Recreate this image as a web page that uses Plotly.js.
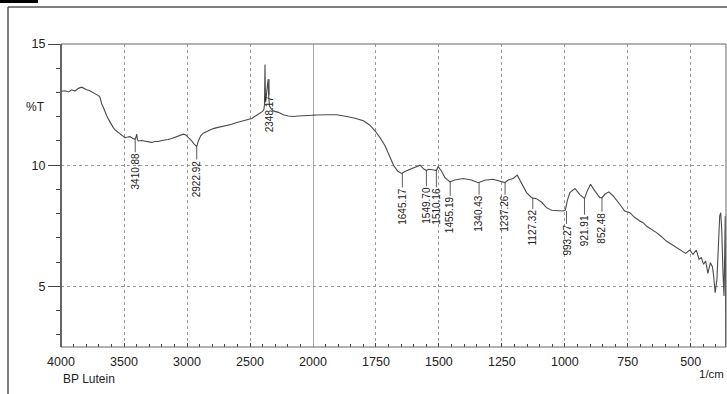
<!DOCTYPE html>
<html>
<head>
<meta charset="utf-8">
<script src="https://cdn.plot.ly/plotly-3.0.1.min.js"></script>
<style>html,body{margin:0;padding:0;background:#fff;}#chart{width:727px;height:394px;}</style>
</head>
<body>
<div id="chart"></div>
<script>
// Wavenumber (1/cm) and transmittance (%T)
const wavenumber = [4000,3968,3940,3915,3890,3862,3836,3815,3796,3775,3756,3735,3717,3700,3690,3677,3665,3651,3638,3624,3610,3598,3585,3571,3550,3532,3510,3492,3470,3452,3430,3413,3405,3399,3393,3386,3360,3333,3305,3280,3255,3228,3200,3175,3150,3121,3095,3069,3050,3029,3010,2990,2963,2945,2923,2910,2890,2871,2850,2831,2805,2778,2750,2725,2690,2645,2610,2566,2530,2487,2450,2420,2400,2390,2385,2381,2377,2370,2362,2356,2351,2346,2335,2315,2275,2236,2195,2156,2115,2077,2040,2000,1985,1946,1906,1866,1833,1800,1774,1754,1734,1714,1694,1679,1662,1648,1635,1615,1595,1575,1559,1550,1540,1533,1520,1510,1503,1490,1476,1456,1437,1404,1371,1344,1318,1285,1258,1238,1225,1205,1189,1172,1152,1132,1113,1093,1073,1053,1027,1007,998,990,980,960,941,922,911,898,881,861,852,841,825,808,782,762,742,722,702,689,676,656,636,616,597,577,557,537,520,504,491,478,467,458,449,441,432,422,414,409,403,396,391,385,381,377,372,368,365,363,361];
const transmittance = [13.05,13.07,13.02,13.11,13.06,13.17,13.22,13.15,13.11,13.08,13.03,12.98,12.93,12.86,12.80,12.52,12.40,12.18,12.05,11.90,11.78,11.62,11.55,11.46,11.38,11.32,11.22,11.14,11.16,11.18,11.10,11.07,11.15,11.28,11.05,11.00,11.02,11.00,10.96,10.94,10.98,10.98,11.02,11.03,11.06,11.10,11.15,11.21,11.24,11.28,11.25,11.15,11.00,10.88,10.77,11.00,11.22,11.32,11.38,11.42,11.48,11.53,11.56,11.60,11.64,11.69,11.75,11.81,11.86,11.93,12.05,12.15,12.22,12.30,12.50,14.15,12.60,12.90,13.20,13.55,12.80,12.45,12.35,12.24,12.18,12.08,12.03,12.01,12.03,12.04,12.05,12.06,12.07,12.08,12.08,12.01,11.94,11.83,11.65,11.42,11.14,10.80,10.32,9.97,9.74,9.66,9.74,9.83,9.93,10.00,9.83,9.79,9.83,9.83,9.80,9.78,9.94,9.76,9.49,9.31,9.39,9.45,9.39,9.28,9.38,9.42,9.35,9.28,9.39,9.45,9.59,9.28,8.87,8.66,8.62,8.48,8.25,8.14,8.11,8.11,8.15,8.55,8.87,9.04,8.80,8.62,8.94,9.21,8.94,8.66,8.66,8.80,8.90,8.73,8.39,8.11,8.04,7.84,7.70,7.63,7.49,7.36,7.22,7.05,6.87,6.74,6.60,6.46,6.36,6.50,6.32,6.50,6.12,6.19,5.91,6.05,5.54,5.98,5.81,5.43,4.74,5.29,6.67,7.90,8.04,7.36,5.57,4.60,6.50,7.90,2.50];

// Labelled peaks
const peakWavenumber = [3410.88,2922.92,2348.17,1645.17,1549.70,1510.16,1455.19,1340.43,1237.26,1127.32,993.27,921.91,852.48];
const peakT = [11.07,10.77,13.55,9.66,9.79,9.83,9.31,9.28,9.28,8.66,8.11,8.62,8.66];

// Axis ticks
const highTicks = [4000,3500,3000,2500];
const lowTicks = [2000,1750,1500,1250,1000,750,500];
const yTicks = [5,10,15];

// label offsets (px, below the marked point)
const labelOffsets = [32,32,35,33,35,37,33,31,31,30,29,32,30];

const font = 'Arial, "Liberation Sans", sans-serif';
const lineColor = '#4a4a4a';

const traceHigh = {x: wavenumber, y: transmittance, xaxis:'x', yaxis:'y', type:'scatter', mode:'lines',
  line:{color:lineColor, width:1.1}, hoverinfo:'skip', showlegend:false};
const traceLow = {x: wavenumber, y: transmittance, xaxis:'x2', yaxis:'y', type:'scatter', mode:'lines',
  line:{color:lineColor, width:1.1}, hoverinfo:'skip', showlegend:false};

const split = 252/665;
const commonX = {showline:false, zeroline:false, ticks:'inside', ticklen:4, tickcolor:'#444',
  tickfont:{family:font, size:12.5, color:'#222'}, ticklabelstandoff:5,
  showgrid:true, gridcolor:'#9a9a9a', griddash:'dot', gridwidth:1,
  tickmode:'array', anchor:'y'};

const annotations = peakWavenumber.map((w,i)=>({
  x: w, y: peakT[i], xref: w > 2000 ? 'x' : 'x2', yref:'y',
  text: peakWavenumber[i].toFixed(2), textangle:-90,
  showarrow:true, arrowhead:0, arrowwidth:0.8, arrowcolor:'#333', ax:0, ay:labelOffsets[i],
  standoff:0, borderpad:0, font:{family:font, size:10, color:'#222'}
}));
annotations.push(
  {xref:'paper', yref:'paper', x:(35-61)/665, y:(347-107)/303, text:'%T', showarrow:false, xanchor:'center', yanchor:'middle', font:{family:font, size:12, color:'#222'}},
  {xref:'paper', yref:'paper', x:0, y:(347-379)/303, text:'BP Lutein', showarrow:false, xanchor:'left', yanchor:'middle', font:{family:font, size:12, color:'#222'}},
  {xref:'paper', yref:'paper', x:(726-61)/665, y:(347-374)/303, text:'1/cm', showarrow:false, xanchor:'right', yanchor:'middle', font:{family:font, size:11.5, color:'#222'}}
);

const layout = {
  width:727, height:394,
  margin:{l:61, r:1, t:44, b:47},
  paper_bgcolor:'#fff', plot_bgcolor:'#fff',
  showlegend:false,
  xaxis: Object.assign({}, commonX, {domain:[0, split], range:[4000,2000], tickvals:highTicks, ticktext:highTicks.map(String),
    minor:{tickmode:'linear', tick0:0, dtick:100, ticks:'inside', ticklen:3, tickcolor:'#444', showgrid:false}}),
  xaxis2: Object.assign({}, commonX, {domain:[split, 1], range:[2000,360], tickvals:lowTicks, ticktext:lowTicks.map(String),
    minor:{tickmode:'linear', tick0:0, dtick:50, ticks:'inside', ticklen:3, tickcolor:'#444', showgrid:false}}),
  yaxis:{range:[2.5,15], tickmode:'array', tickvals:yTicks, ticktext:yTicks.map(String), showline:false, zeroline:false,
    ticks:'outside', ticklen:12, tickcolor:'#444', tickfont:{family:font, size:12.5, color:'#222'},
    showgrid:true, gridcolor:'#9a9a9a', griddash:'dot', gridwidth:1, anchor:'x',
    minor:{tickmode:'linear', tick0:0, dtick:1, ticks:'outside', ticklen:4, tickcolor:'#444', showgrid:false}},
  annotations: annotations,
  shapes:[
    {type:'rect', xref:'paper', yref:'paper', x0:0, x1:1, y0:0, y1:1, line:{color:'#666', width:1}, layer:'above'},
    {type:'line', xref:'paper', yref:'paper', x0:0, x1:0, y0:0, y1:1, line:{color:'#333', width:1.2}, layer:'above'},
    {type:'line', xref:'x2', yref:'paper', x0:2000, x1:2000, y0:0, y1:1, line:{color:'#555', width:1}, layer:'below'},
    {type:'line', xref:'paper', yref:'paper', x0:-53/665, x1:1.2, y0:(347-7)/303, y1:(347-7)/303, line:{color:'#555', width:1.5}},
    {type:'line', xref:'paper', yref:'paper', x0:-53/665, x1:-53/665, y0:(347-7)/303, y1:-0.3, line:{color:'#555', width:1.5}},
    {type:'rect', xref:'paper', yref:'paper', x0:-61/665, x1:-23/665, y0:347/303, y1:(347-3)/303, fillcolor:'#000', line:{width:0}}
  ]
};

Plotly.newPlot('chart', [traceHigh, traceLow], layout, {staticPlot:true, displayModeBar:false});
</script>
</body>
</html>
